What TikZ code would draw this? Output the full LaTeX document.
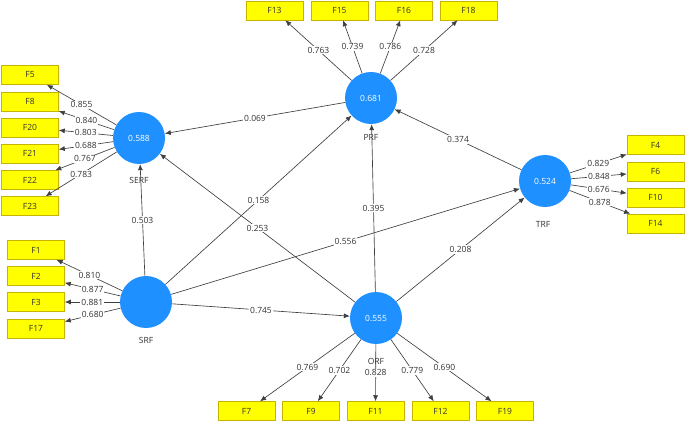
\documentclass[tikz,border=0pt]{standalone}
\usepackage{fontspec}
\setmainfont{Open Sans}
\usetikzlibrary{arrows.meta}
\definecolor{lvblue}{HTML}{1E90FF}
\definecolor{indyellow}{HTML}{FFFF00}
\definecolor{indborder}{HTML}{C8B400}
\definecolor{linegray}{HTML}{404040}
\definecolor{labgray}{HTML}{333333}
\tikzset{
  lv/.style={circle, fill=lvblue, minimum size=52pt, inner sep=0pt, text=white, font=\fontsize{8.5}{10}\selectfont},
  lvname/.style={inner sep=0pt, text=labgray, font=\fontsize{8.5}{10}\selectfont},
  ind/.style={rectangle, fill=indyellow, draw=indborder, line width=0.5pt, minimum width=57pt, minimum height=19pt, inner sep=0pt, text=labgray, font=\fontsize{8.5}{10}\selectfont},
  conn/.style={draw=linegray, line width=0.65pt, -{Latex[length=6pt,width=5pt]}},
  lab/.style={fill=white, inner sep=1pt, text=labgray, font=\fontsize{8.5}{10}\selectfont}
}
\begin{document}
\begin{tikzpicture}[x=1pt,y=-1pt]
\useasboundingbox[fill=white] (0,0) rectangle (685,422);
% latent variables
\node[lv] (serf) at (139,138) {0.588};
\node[lv] (prf) at (371,98) {0.681};
\node[lv] (trf) at (545,181) {0.524};
\node[lv] (srf) at (146,302) {};
\node[lv] (orf) at (376,318) {0.555};
% indicators SERF
\node[ind] (f5) at (30,75) {F5};
\node[ind] (f8) at (30,101.5) {F8};
\node[ind] (f20) at (30,127.5) {F20};
\node[ind] (f21) at (30,153.5) {F21};
\node[ind] (f22) at (30,180) {F22};
\node[ind] (f23) at (30,206) {F23};
% indicators SRF
\node[ind] (f1) at (36,250) {F1};
\node[ind] (f2) at (36,276) {F2};
\node[ind] (f3) at (36,302) {F3};
\node[ind] (f17) at (36,328.5) {F17};
% indicators PRF
\node[ind] (f13) at (274.5,10.5) {F13};
\node[ind] (f15) at (339.5,10.5) {F15};
\node[ind] (f16) at (404,10.5) {F16};
\node[ind] (f18) at (468.5,10.5) {F18};
% indicators TRF
\node[ind] (f4) at (655.5,145) {F4};
\node[ind] (f6) at (655.5,171.5) {F6};
\node[ind] (f10) at (655.5,197.5) {F10};
\node[ind] (f14) at (655.5,223.5) {F14};
% indicators ORF
\node[ind] (f7) at (246.5,411) {F7};
\node[ind] (f9) at (311,411) {F9};
\node[ind] (f11) at (375.5,411) {F11};
\node[ind] (f12) at (440.5,411) {F12};
\node[ind] (f19) at (505,411) {F19};
% loadings
\draw[conn] (serf) -- node[lab]{0.855} (f5);
\draw[conn] (serf) -- node[lab]{0.840} (f8);
\draw[conn] (serf) -- node[lab]{0.803} (f20);
\draw[conn] (serf) -- node[lab]{0.688} (f21);
\draw[conn] (serf) -- node[lab]{0.767} (f22);
\draw[conn] (serf) -- node[lab]{0.783} (f23);
\draw[conn] (srf) -- node[lab]{0.810} (f1);
\draw[conn] (srf) -- node[lab]{0.877} (f2);
\draw[conn] (srf) -- node[lab]{0.881} (f3);
\draw[conn] (srf) -- node[lab]{0.680} (f17);
\draw[conn] (prf) -- node[lab]{0.763} (f13);
\draw[conn] (prf) -- node[lab]{0.739} (f15);
\draw[conn] (prf) -- node[lab]{0.786} (f16);
\draw[conn] (prf) -- node[lab]{0.728} (f18);
\draw[conn] (trf) -- node[lab]{0.829} (f4);
\draw[conn] (trf) -- node[lab]{0.848} (f6);
\draw[conn] (trf) -- node[lab]{0.676} (f10);
\draw[conn] (trf) -- node[lab]{0.878} (f14);
\draw[conn] (orf) -- node[lab]{0.769} (f7);
\draw[conn] (orf) -- node[lab]{0.702} (f9);
\draw[conn] (orf) -- node[lab]{0.828} (f11);
\draw[conn] (orf) -- node[lab]{0.779} (f12);
\draw[conn] (orf) -- node[lab]{0.690} (f19);
% structural paths
\draw[conn] (prf) -- node[lab]{0.069} (serf);
\draw[conn] (srf) -- node[lab]{0.503} (serf);
\draw[conn] (srf) -- node[lab]{0.158} (prf);
\draw[conn] (orf) -- node[lab]{0.253} (serf);
\draw[conn] (srf) -- node[lab]{0.556} (trf);
\draw[conn] (srf) -- node[lab]{0.745} (orf);
\draw[conn] (orf) -- node[lab]{0.395} (prf);
\draw[conn] (orf) -- node[lab]{0.208} (trf);
\draw[conn] (trf) -- node[lab]{0.374} (prf);
% names
\node[lvname] (serfname) at (139,180) {SERF};
\node[lvname] (prfname) at (371,137) {PRF};
\node[lvname] (trfname) at (543,224) {TRF};
\node[lvname] (srfname) at (146,340) {SRF};
\node[lvname] (orfname) at (376,361) {ORF};
\end{tikzpicture}
\end{document}
